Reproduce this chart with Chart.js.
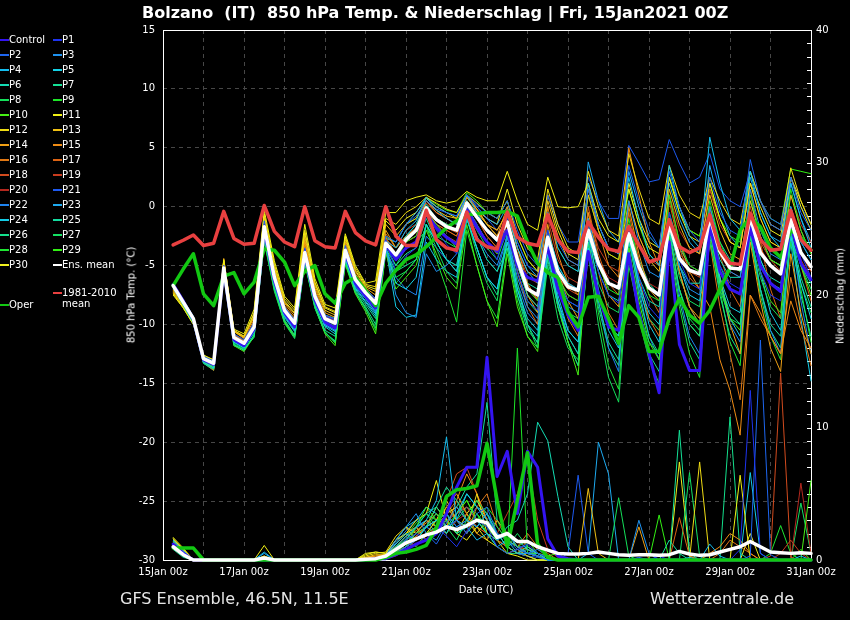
<!DOCTYPE html>
<html>
<head>
<meta charset="utf-8">
<script src="https://cdn.jsdelivr.net/npm/chart.js@4.4.1/dist/chart.umd.min.js"></script>
<style>
  body { margin: 0; background: #000; }
  #wrap { position: relative; width: 850px; height: 620px; overflow: hidden; }
  .t { position: absolute; color: #fff; font-family: 'DejaVu Sans'; white-space: pre; }
  .c { transform: translate(-50%, -50%); }
  .r { transform: translate(-50%, -50%) rotate(-90deg); }
  .lg { position: absolute; height: 2px; }
</style>
</head>
<body>
<div id="wrap">
  <canvas id="chart" width="850" height="620"></canvas>
  <div class="t" style="left:142px;top:3px;font-weight:bold;font-size:16px;">Bolzano  (IT)  850 hPa Temp. &amp; Niederschlag | Fri, 15Jan2021 00Z</div>
  <div class="t r" style="left:131px;top:295px;font-size:10px;">850 hPa Temp. (°C)</div>
  <div class="t r" style="left:840px;top:296px;font-size:10px;">Niederschlag (mm)</div>
  <div class="t c" style="left:486px;top:589px;font-size:10px;">Date (UTC)</div>
  <div class="t" style="left:120px;top:589px;font-size:16px;color:#e6e6e6;">GFS Ensemble, 46.5N, 11.5E</div>
  <div class="t" style="left:650px;top:589px;font-size:16px;color:#e6e6e6;">Wetterzentrale.de</div>
  <div id="legend"></div>
</div>
<script>
// forecast hours after 15Jan2021 00z
const hours = [6,12,18,24,30,36,42,48,54,60,66,72,78,84,90,96,102,108,114,120,126,
  132,138,144,150,156,162,168,174,180,186,192,198,204,210,216,222,228,234,240,246,
  252,258,264,270,276,282,288,294,300,306,312,318,324,330,336,342,348,354,360,366,372,378,384];
const xTickLabels = ['15Jan 00z','17Jan 00z','19Jan 00z','21Jan 00z','23Jan 00z','25Jan 00z','27Jan 00z','29Jan 00z','31Jan 00z'];

// 850 hPa temperature (°C)
const tCtl = [-6.6,-8.0,-9.6,-13.0,-13.4,-5.4,-11.3,-11.8,-10.4,-2.0,-6.3,-9.0,-10.2,-4.1,-7.9,-9.8,-10.3,-3.9,-6.5,-7.6,-8.6,
  -3.2,-4.5,-3.5,-3.0,-0.6,-1.8,-2.6,-3.2,-0.3,-1.8,-3.0,-3.8,-2.0,-5.0,-6.0,-6.3,-3.5,-7.0,-9.2,-10.5,
  -3.8,-7.5,-10.2,-10.5,-4.0,-9.0,-12.5,-15.8,-3.0,-11.7,-13.9,-13.9,-1.5,-5.5,-7.0,-7.4,-1.8,-5.0,-6.5,-7.2,-1.5,-4.8,-6.2];
const tP1 = [-6.8,-8.2,-9.4,-12.8,-13.2,-5.0,-11.0,-11.5,-10.0,-1.5,-5.8,-8.6,-9.7,-3.6,-7.4,-9.3,-9.6,-3.5,-6.0,-7.1,-7.9,
  -2.8,-5.5,-4.2,-3.5,-0.5,-2.0,-3.2,-4.0,0.0,-1.5,-3.0,-4.5,-1.0,-5.5,-8.0,-8.8,-2.0,-6.0,-8.0,-8.5,
  -1.5,-5.5,-7.5,-8.2,-2.0,-6.0,-8.5,-9.5,-0.5,-4.5,-6.5,-7.0,-1.0,-5.0,-6.5,-7.0,-1.5,-5.5,-7.5,-8.0,-0.5,-4.0,-6.0];
const tP2 = [-6.5,-7.9,-9.3,-12.7,-13.1,-5.0,-10.8,-11.3,-9.8,-1.2,-5.6,-8.5,-9.6,-3.5,-7.3,-9.2,-9.5,-3.3,-5.9,-7.0,-7.8,
  -2.5,-3.0,-1.5,-0.8,0.5,-0.2,-0.5,-0.8,1.0,0.2,-0.5,-1.0,0.5,-2.0,-4.0,-5.0,-0.5,-3.0,-4.5,-5.0,
  1.5,-1.5,-3.5,-4.0,3.5,0.5,-2.0,-3.5,3.0,0.0,-2.0,-3.0,2.5,-0.5,-2.0,-2.5,4.0,0.5,-1.5,-2.0,2.5,-0.5,-2.0];
const tP3 = [-6.9,-8.3,-9.7,-13.1,-13.5,-5.5,-11.4,-11.9,-10.5,-2.3,-6.5,-9.2,-10.4,-4.3,-8.0,-10.0,-10.5,-4.2,-6.8,-7.8,-8.9,
  -3.4,-7.5,-9.0,-9.4,-4.0,-5.5,-5.0,-4.0,-1.0,-2.5,-4.0,-5.0,-2.5,-6.0,-8.5,-9.5,-3.0,-6.5,-8.5,-9.0,
  -1.0,-4.5,-6.5,-7.0,0.5,-3.0,-5.5,-6.0,-1.5,-5.0,-7.0,-7.5,0.0,-3.5,-5.5,-6.0,1.5,-2.0,-4.0,-4.5,0.0,-3.0,-4.5];
const tP4 = [-6.6,-8.0,-9.4,-12.8,-13.2,-5.1,-11.0,-11.6,-10.1,-1.6,-5.9,-8.7,-9.8,-3.8,-7.5,-9.4,-9.8,-3.6,-6.1,-7.2,-8.1,
  -2.9,-3.5,-2.0,-1.2,0.8,-0.3,-1.0,-1.5,1.0,-0.5,-2.0,-3.0,-0.5,-3.5,-5.5,-6.5,-2.0,-5.0,-6.5,-7.0,
  2.0,-1.5,-3.5,-4.0,2.5,-1.0,-4.0,-5.0,3.5,0.0,-2.5,-3.5,5.9,2.0,-1.0,-2.0,3.0,-0.5,-2.5,-3.5,2.0,-1.0,-3.5];
const tP5 = [-6.8,-8.2,-9.8,-13.2,-13.7,-5.6,-11.5,-12.0,-10.6,-2.4,-6.6,-9.3,-10.5,-4.4,-8.1,-10.1,-10.6,-4.3,-6.9,-8.0,-9.1,
  -3.5,-6.5,-7.0,-6.0,-1.5,-3.0,-4.5,-5.5,-1.0,-3.5,-6.0,-7.0,-3.0,-7.0,-9.5,-10.5,-4.0,-8.0,-10.5,-11.5,
  -3.5,-7.5,-10.0,-11.0,-2.5,-6.5,-9.0,-10.0,-1.0,-5.0,-7.5,-8.0,-2.0,-6.0,-8.5,-9.0,-1.0,-4.5,-6.5,-7.0,-2.5,-6.5,-9.5];
const tP6 = [-6.7,-8.1,-9.5,-13.0,-13.4,-5.3,-11.2,-11.7,-10.3,-1.8,-6.1,-8.9,-10.0,-4.0,-7.7,-9.6,-10.0,-3.8,-6.3,-7.4,-8.3,
  -3.0,-4.0,-2.5,-1.5,0.2,-1.0,-1.5,-2.0,0.5,-1.0,-2.0,-3.0,-1.5,-5.0,-7.5,-8.5,-3.0,-6.5,-8.0,-8.5,
  -2.5,-5.5,-7.5,-8.0,-3.0,-6.0,-8.0,-8.5,-2.0,-5.0,-6.5,-6.5,-1.5,-4.5,-6.0,-6.0,-2.0,-5.0,-6.0,-6.5,-2.5,-5.0,-6.5];
const tP7 = [-6.9,-8.4,-9.9,-13.3,-13.8,-5.7,-11.7,-12.2,-10.9,-2.7,-6.9,-9.6,-10.9,-4.6,-8.4,-10.5,-11.0,-4.5,-7.1,-8.3,-9.5,
  -3.6,-5.0,-4.0,-3.5,-1.0,-3.0,-4.5,-5.0,-0.5,-2.5,-4.5,-5.5,-3.5,-7.5,-10.0,-11.6,-4.5,-8.5,-11.0,-12.5,
  -3.0,-8.0,-11.5,-13.0,-2.5,-7.5,-11.0,-12.5,-2.0,-7.0,-10.0,-11.0,-1.5,-6.5,-9.0,-10.0,-2.5,-7.0,-10.0,-11.0,-2.0,-6.0,-8.5];
const tP8 = [-6.8,-8.3,-9.7,-13.1,-13.6,-5.6,-11.6,-12.1,-11.0,-3.0,-7.2,-9.9,-11.2,-4.8,-8.6,-10.7,-11.5,-4.8,-7.3,-8.7,-10.3,
  -3.8,-6.0,-5.5,-4.5,-1.5,-3.5,-5.5,-6.5,-1.0,-4.0,-6.5,-8.0,-2.0,-6.5,-10.0,-12.0,-5.0,-9.5,-12.0,-13.0,
  -4.0,-10.0,-14.5,-16.6,-5.0,-9.0,-11.5,-12.5,-3.5,-7.0,-9.5,-10.5,-3.0,-7.0,-9.5,-10.0,-2.5,-6.0,-8.5,-9.5,-3.0,-6.5,-9.0];
const tP9 = [-6.7,-8.1,-9.6,-12.9,-13.4,-5.4,-11.2,-11.8,-10.4,-2.0,-6.2,-9.0,-10.1,-4.0,-7.8,-9.7,-10.2,-3.9,-6.4,-7.6,-8.7,
  -3.3,-4.5,-3.0,-2.5,-0.5,-1.5,-2.5,-3.5,0.0,-1.5,-3.0,-4.0,-1.0,-4.5,-7.0,-8.0,-2.5,-6.0,-7.5,-8.0,
  -1.5,-5.0,-7.0,-7.5,-1.0,-5.0,-7.5,-8.0,1.0,-3.0,-5.0,-5.5,0.5,-3.0,-5.0,-5.5,1.0,-2.5,-4.5,-5.0,1.5,-2.0,-4.0];
const tP10 = [-6.9,-8.3,-9.8,-13.2,-13.7,-5.8,-11.8,-12.3,-11.0,-2.9,-7.0,-9.8,-11.0,-4.7,-8.5,-10.8,-11.8,-4.9,-7.4,-8.9,-10.8,
  -3.9,-7.0,-6.0,-5.0,-2.0,-4.0,-6.0,-7.0,-1.5,-5.0,-8.0,-10.2,-4.0,-8.5,-11.0,-12.3,-4.0,-8.5,-11.5,-14.3,
  -3.0,-7.5,-10.0,-11.0,-3.5,-8.0,-11.5,-13.0,-2.5,-7.0,-10.0,-11.0,-2.0,-6.5,-9.5,-10.5,-1.5,-5.5,-8.0,-9.0,-1.0,-5.0,-7.5];
const tP11 = [-7.5,-8.6,-10.0,-12.6,-13.1,-4.5,-10.4,-10.8,-8.7,-0.3,-4.6,-7.6,-8.6,-1.5,-6.1,-8.3,-8.6,-2.3,-5.0,-6.5,-6.3,
  -0.5,-0.5,0.5,0.8,1.0,0.5,0.3,0.5,1.3,0.8,0.5,0.5,3.0,0.5,-1.5,-2.0,2.5,0.0,-0.1,0.0,
  2.0,-1.0,-2.5,-3.0,1.5,-1.5,-3.5,-4.0,2.5,-0.5,-2.5,-3.0,2.0,-1.0,-3.0,-3.5,2.0,-1.0,-3.0,-3.5,2.5,0.0,-2.0];
const tP12 = [-7.3,-8.5,-9.9,-12.7,-13.0,-4.6,-10.5,-11.0,-9.0,-0.6,-4.9,-7.8,-8.8,-2.0,-6.4,-8.5,-8.9,-2.5,-5.2,-6.6,-6.8,
  -1.0,-1.5,-0.5,0.0,0.8,0.3,-0.2,-0.5,1.0,0.3,-0.5,-1.0,0.5,-2.5,-4.5,-5.5,1.5,-1.5,-3.5,-4.0,
  3.0,0.0,-2.0,-2.5,4.5,1.5,-1.0,-1.5,3.5,1.0,-0.5,-1.0,2.5,0.5,-1.0,-1.5,3.0,0.5,-1.5,-2.0,3.3,0.5,-1.5];
const tP13 = [-7.1,-8.4,-9.8,-12.8,-13.3,-4.7,-10.6,-11.1,-9.3,-0.9,-5.2,-8.1,-9.1,-2.5,-6.7,-8.8,-9.2,-2.8,-5.5,-6.8,-7.2,
  -1.5,-2.5,-1.5,-1.0,0.5,-0.3,-0.8,-1.0,0.8,-0.2,-1.5,-2.0,-0.5,-3.5,-5.5,-6.0,0.5,-2.5,-4.5,-5.0,
  1.0,-2.0,-4.0,-4.5,0.5,-2.5,-4.5,-5.5,1.5,-1.5,-3.5,-4.0,1.0,-2.0,-4.0,-4.5,0.5,-2.5,-4.5,-5.0,1.0,-2.0,-4.0];
const tP14 = [-7.0,-8.3,-9.7,-13.0,-13.6,-4.4,-10.5,-11.0,-9.4,-1.0,-5.4,-8.2,-9.3,-2.8,-6.9,-9.0,-9.4,-3.0,-5.7,-6.9,-7.5,
  -2.0,-3.5,-2.5,-2.0,0.0,-1.0,-1.5,-2.0,0.5,-0.5,-1.5,-2.5,-1.0,-4.5,-7.5,-9.0,-1.5,-5.5,-8.0,-9.5,
  -0.5,-4.5,-7.5,-8.5,0.0,-4.0,-7.0,-8.0,-1.0,-5.5,-8.5,-9.5,-2.0,-6.0,-10.0,-12.5,-3.0,-8.0,-12.0,-14.0,-4.0,-9.0,-12.5];
const tP15 = [-7.2,-8.5,-9.9,-13.1,-13.7,-4.5,-10.6,-11.2,-9.6,-1.2,-5.6,-8.4,-9.5,-3.0,-7.1,-9.2,-9.6,-3.2,-5.9,-7.0,-7.8,
  -2.3,-3.5,-2.5,-1.8,0.5,-0.5,-1.0,-1.5,1.0,-0.2,-1.5,-2.5,0.0,-3.5,-6.5,-8.0,0.0,-4.0,-6.5,-7.5,
  2.0,-2.0,-5.0,-6.0,5.0,1.0,-3.0,-5.0,1.0,-3.0,-5.5,-7.0,-8.5,-13.0,-15.6,-19.4,-7.5,-9.0,-11.0,-12.5,-8.0,-10.5,-12.0];
const tP16 = [-7.0,-8.4,-9.8,-13.2,-13.9,-4.8,-10.8,-11.4,-9.8,-1.4,-5.8,-8.6,-9.7,-3.3,-7.3,-9.4,-9.8,-3.4,-6.0,-7.1,-7.9,
  -2.6,-4.0,-3.0,-2.5,-0.3,-1.5,-2.0,-2.5,0.3,-1.0,-2.5,-3.5,-1.5,-5.5,-8.5,-10.0,-2.0,-6.5,-9.5,-11.0,
  -1.0,-5.5,-9.0,-10.5,-1.5,-6.0,-9.5,-11.0,-1.0,-5.5,-8.5,-10.0,-3.0,-8.5,-12.5,-16.4,-7.5,-9.5,-11.0,-12.5,-6.0,-10.0,-13.5];
const tP17 = [-6.9,-8.2,-9.6,-13.0,-13.5,-5.0,-10.9,-11.4,-10.0,-1.5,-5.9,-8.7,-9.8,-3.6,-7.5,-9.5,-9.8,-3.5,-6.1,-7.2,-8.1,
  -2.7,-4.5,-3.5,-3.0,-0.5,-1.5,-2.5,-3.0,0.0,-1.5,-3.0,-4.0,-1.5,-5.0,-7.5,-8.5,-2.5,-6.0,-7.5,-8.0,
  0.0,-4.0,-6.5,-7.5,-0.5,-4.5,-7.5,-9.0,0.5,-3.5,-6.0,-7.0,0.0,-4.0,-7.0,-8.5,1.5,-3.0,-7.0,-9.5,-0.5,-5.0,-8.0];
const tP18 = [-6.8,-8.2,-9.5,-12.9,-13.4,-5.2,-11.0,-11.5,-10.1,-1.6,-6.0,-8.8,-9.9,-3.9,-7.6,-9.4,-9.8,-3.6,-6.2,-7.3,-8.2,
  -3.0,-4.0,-2.8,-2.0,-0.2,-1.2,-1.8,-2.2,0.3,-1.0,-2.0,-3.0,-1.5,-4.5,-7.0,-7.8,-3.0,-6.0,-7.0,-7.5,
  -2.0,-5.0,-6.5,-7.0,-2.5,-5.5,-7.0,-7.5,-1.5,-4.5,-5.5,-6.0,-0.5,-3.5,-5.0,-5.5,0.0,-3.0,-4.5,-5.5,-1.0,-4.0,-5.5];
const tP19 = [-6.6,-8.0,-9.4,-12.8,-13.2,-5.1,-11.0,-11.5,-10.0,-1.5,-5.8,-8.6,-9.7,-3.7,-7.4,-9.3,-9.7,-3.5,-6.0,-7.1,-8.0,
  -2.8,-3.5,-2.0,-1.5,0.3,-0.5,-1.0,-1.5,0.8,-0.3,-1.5,-2.0,-0.5,-3.5,-6.0,-6.5,-1.0,-4.5,-6.0,-6.5,
  -0.5,-3.5,-5.0,-5.5,0.5,-2.5,-4.5,-5.0,1.0,-2.0,-3.5,-4.0,1.5,-1.5,-3.0,-3.5,2.0,-1.0,-3.0,-3.5,1.0,-1.5,-3.0];
const tP20 = [-6.7,-8.1,-9.5,-12.9,-13.3,-5.3,-11.1,-11.6,-10.3,-1.8,-6.1,-8.9,-10.0,-3.9,-7.7,-9.6,-10.0,-3.7,-6.3,-7.4,-8.3,
  -3.1,-4.5,-3.0,-2.5,-0.4,-1.5,-2.0,-2.5,0.0,-1.0,-2.5,-3.5,-1.0,-4.0,-7.0,-8.0,-2.5,-5.5,-6.5,-7.0,
  -1.5,-4.5,-6.0,-6.5,-2.0,-5.0,-6.5,-7.0,-1.0,-4.0,-5.0,-5.5,-1.0,-4.0,-5.5,-6.0,-0.5,-3.5,-5.0,-5.5,-1.5,-4.5,-6.0];
const tP21 = [-6.7,-8.0,-9.5,-12.9,-13.3,-5.2,-11.1,-11.6,-10.2,-1.8,-6.0,-8.8,-9.9,-3.9,-7.7,-9.6,-10.0,-3.8,-6.2,-7.4,-8.4,
  -3.0,-4.2,-2.5,-1.5,0.5,-0.5,-1.0,-1.5,1.0,0.0,-1.0,-2.0,-0.5,-3.0,-5.0,-5.5,1.0,-1.5,-3.0,-3.0,
  2.5,0.5,-1.0,-1.0,5.2,3.7,2.1,2.3,5.7,3.7,2.0,2.5,4.5,1.5,0.5,0.0,3.0,0.5,-1.0,-1.5,2.5,0.0,-1.5];
const tP22 = [-6.8,-8.2,-9.7,-13.1,-13.6,-5.5,-11.4,-11.9,-10.6,-2.2,-6.4,-9.2,-10.4,-4.2,-8.0,-10.0,-10.5,-4.1,-6.7,-7.8,-9.0,
  -3.4,-6.0,-7.0,-7.5,-2.5,-3.5,-4.5,-5.0,-0.5,-2.5,-4.5,-5.5,-2.5,-6.5,-9.0,-10.0,-3.5,-8.0,-11.0,-12.5,
  -2.5,-8.0,-12.0,-14.0,-1.5,-7.0,-11.0,-13.0,-2.0,-7.5,-11.0,-12.5,-1.0,-6.5,-10.0,-11.5,-2.0,-7.0,-10.5,-12.5,-1.5,-8.0,-12.5];
const tP23 = [-6.6,-8.0,-9.4,-12.8,-13.2,-5.1,-10.9,-11.4,-10.0,-1.4,-5.7,-8.6,-9.7,-3.6,-7.4,-9.3,-9.7,-3.5,-6.0,-7.1,-8.0,
  -2.7,-3.0,-1.5,-0.5,0.8,0.0,-0.5,-0.8,1.0,0.0,-1.0,-1.5,0.0,-3.0,-5.0,-6.0,-0.5,-3.5,-5.0,-5.5,
  3.8,0.5,-2.0,-3.0,3.0,0.0,-2.5,-3.5,2.0,-1.0,-3.0,-4.0,3.5,0.0,-2.5,-3.5,2.5,-0.5,-2.5,-3.0,2.0,-1.0,-3.0];
const tP24 = [-6.9,-8.3,-9.8,-13.2,-13.7,-5.6,-11.5,-12.0,-10.7,-2.5,-6.7,-9.4,-10.6,-4.4,-8.2,-10.2,-10.8,-4.4,-7.0,-8.1,-9.3,
  -3.5,-8.5,-9.4,-9.2,-3.0,-4.5,-5.5,-6.0,-1.0,-3.5,-6.0,-7.0,-2.5,-7.0,-10.0,-11.0,-2.5,-7.5,-10.5,-11.5,
  -2.0,-7.0,-10.5,-12.0,-2.0,-6.5,-10.0,-11.5,-1.0,-5.5,-8.5,-10.0,-1.5,-6.0,-9.5,-11.0,-1.0,-5.5,-9.0,-10.5,-3.0,-9.5,-14.8];
const tP25 = [-6.7,-8.1,-9.6,-13.0,-13.4,-5.3,-11.2,-11.7,-10.3,-1.9,-6.1,-8.9,-10.0,-4.0,-7.7,-9.6,-10.0,-3.8,-6.3,-7.4,-8.4,
  -3.2,-4.5,-3.0,-2.0,0.0,-1.0,-1.5,-2.0,0.5,-0.5,-1.5,-2.5,-1.0,-4.0,-6.5,-7.0,-2.0,-5.0,-6.5,-7.0,
  -1.5,-4.5,-6.5,-7.0,-1.5,-4.5,-6.5,-7.5,-0.5,-3.5,-5.0,-5.5,0.0,-3.0,-4.5,-5.0,0.5,-2.5,-4.5,-5.0,0.0,-3.0,-4.5];
const tP26 = [-6.9,-8.4,-9.9,-13.3,-13.9,-5.8,-11.8,-12.1,-11.1,-2.8,-7.1,-9.8,-11.1,-4.6,-8.6,-10.7,-11.4,-4.6,-7.3,-8.5,-10.0,
  -3.7,-5.5,-5.0,-4.5,-1.5,-3.0,-4.5,-5.5,-1.0,-3.5,-6.0,-7.5,-3.0,-7.5,-10.5,-11.5,-3.5,-8.5,-11.5,-13.5,
  -3.0,-8.5,-12.0,-13.5,-3.5,-8.5,-12.5,-14.0,-3.0,-8.0,-11.5,-13.0,-2.5,-7.5,-11.0,-12.5,-2.0,-7.0,-10.5,-12.0,-2.5,-7.5,-11.0];
const tP27 = [-6.7,-8.2,-9.6,-13.0,-13.5,-5.4,-11.3,-11.8,-10.4,-2.1,-6.3,-9.1,-10.2,-4.2,-7.9,-9.8,-10.3,-4.0,-6.6,-7.8,-8.9,
  -3.3,-5.0,-3.5,-3.0,-2.0,-2.5,-3.0,-3.5,-0.5,-2.0,-3.5,-4.5,-2.0,-5.5,-8.0,-9.0,-3.0,-7.0,-9.0,-9.5,
  -2.5,-6.5,-8.5,-9.0,-3.0,-7.0,-9.5,-10.5,-2.0,-6.0,-8.0,-8.5,-1.0,-5.0,-7.0,-7.5,-0.5,-4.5,-6.5,-7.0,-1.0,-5.0,-7.0];
const tP28 = [-6.8,-8.3,-9.8,-13.2,-13.8,-5.7,-11.7,-12.2,-10.9,-2.6,-6.9,-9.7,-11.0,-4.5,-8.4,-10.6,-11.6,-4.7,-7.2,-8.6,-10.5,
  -3.8,-6.5,-5.5,-4.5,-1.5,-4.5,-7.0,-9.8,-2.0,-5.0,-8.0,-9.5,-3.5,-8.0,-11.0,-12.0,-3.0,-8.0,-11.5,-13.5,
  -3.5,-9.0,-13.5,-15.5,-4.0,-9.5,-13.0,-15.0,-3.5,-8.5,-12.5,-14.5,-2.0,-7.0,-11.5,-13.5,-2.5,-7.5,-11.0,-13.0,-2.0,-7.0,-11.5];
const tP29 = [-6.6,-8.0,-9.4,-12.8,-13.2,-5.1,-10.9,-11.4,-9.9,-1.3,-5.7,-8.5,-9.6,-3.5,-7.3,-9.2,-9.5,-3.4,-5.9,-7.0,-7.8,
  -2.6,-3.0,-1.5,-1.0,0.8,0.2,-0.3,-0.5,1.2,0.5,-0.5,-1.0,0.5,-2.5,-4.5,-5.5,-0.5,-3.5,-5.0,-5.5,
  1.0,-2.0,-4.0,-4.5,1.5,-1.5,-4.0,-5.0,2.5,-0.5,-2.0,-2.5,2.0,-1.0,-2.5,-3.0,3.0,0.5,-1.0,-1.5,3.2,3.0,2.8];
const tP30 = [-7.4,-8.6,-10.0,-12.6,-13.0,-4.6,-10.6,-11.1,-9.1,-0.8,-5.1,-8.0,-9.0,-2.2,-6.5,-8.6,-9.0,-2.6,-5.4,-6.7,-7.0,
  -1.2,-2.0,-1.0,-0.5,0.7,0.0,-0.5,-1.0,0.8,-0.3,-1.0,-1.5,1.5,-1.5,-3.5,-4.5,1.0,-2.0,-4.0,-4.5,
  1.5,-1.5,-3.5,-4.0,2.0,-1.0,-3.0,-3.5,2.5,0.0,-2.0,-2.5,1.5,-1.0,-3.0,-3.5,2.0,0.0,-2.0,-2.5,2.5,0.5,-1.5];
const tMean = [-6.7,-8.1,-9.5,-12.9,-13.3,-5.2,-11.1,-11.6,-10.2,-1.7,-6.0,-8.8,-9.9,-3.9,-7.6,-9.5,-9.9,-3.7,-6.2,-7.3,-8.2,
  -3.1,-4.1,-2.8,-2.0,-0.1,-1.1,-1.7,-2.0,0.3,-0.9,-2.0,-2.8,-1.3,-4.5,-7.0,-7.5,-2.6,-5.5,-6.8,-7.1,
  -2.0,-4.8,-6.5,-6.9,-2.3,-5.1,-6.9,-7.5,-1.4,-4.4,-5.4,-5.7,-0.9,-3.8,-5.2,-5.3,-0.9,-3.9,-5.0,-5.7,-1.1,-3.9,-5.1];
const tOper = [-6.7,-5.3,-4.0,-7.4,-8.4,-5.9,-5.6,-7.4,-6.4,-3.6,-3.7,-4.7,-6.7,-5.5,-5.0,-7.4,-8.2,-6.5,-6.0,-7.1,-8.4,
  -6.5,-5.4,-4.5,-4.1,-3.4,-2.6,-1.8,-1.2,-0.7,-0.6,-0.5,-0.5,-0.4,-0.8,-3.0,-4.8,-5.6,-6.0,-8.9,-10.2,
  -7.7,-7.6,-9.5,-11.6,-8.4,-9.4,-12.3,-12.3,-9.5,-7.8,-9.2,-9.9,-8.8,-7.0,-5.2,-2.0,-0.9,-1.7,-3.5,-4.3,-2.0,-2.6,-3.7];
const tClim = [-3.25,-2.85,-2.4,-3.3,-3.1,-0.4,-2.7,-3.2,-3.1,0.1,-2.1,-3.0,-3.4,0.0,-2.9,-3.4,-3.5,-0.4,-2.2,-2.9,-3.25,
  0.0,-2.5,-3.3,-3.3,-0.3,-2.8,-3.5,-3.7,-0.45,-2.8,-3.4,-3.6,-0.45,-2.6,-3.1,-3.3,-0.7,-2.8,-3.8,-3.9,
  -1.3,-2.6,-3.6,-3.8,-1.7,-3.25,-4.7,-4.4,-1.1,-3.4,-3.9,-3.5,-0.7,-3.6,-4.8,-4.9,-0.55,-2.8,-3.7,-3.6,-0.3,-2.8,-3.7];

// precipitation per 6 h (mm)
const pCtl = [1.2,0.5,0,0,0,0,0,0,0,0,0,0,0,0,0,0,0,0,0,0,0.1,
  0.1,0.4,0.8,1.2,1.5,2.0,3.5,5.5,7.0,7.0,15.3,6.3,8.2,3.5,8.2,7.0,1.6,0.3,0.1,0,
  0,0,0,0,0,0,0,0,0,0,0,0,0,0,0,0,0,0,0,0,0,0,0];
const pP1 = [1.0,0.4,0,0,0,0,0,0,0,0.1,0,0,0,0,0,0,0,0,0,0,0,
  0.2,0.8,1.5,2.0,1.5,2.5,1.8,1.0,2.2,3.0,2.5,1.0,0.5,0.8,1.2,0.5,0.2,0,0,0,
  0,0,0,0,0,0,0,0.3,0,0,0,0,0,0,0,0.8,12.8,0.5,0,0,0,0,0];
const pP2 = [0.9,0.3,0,0,0,0,0,0,0,0,0,0,0,0,0,0,0,0,0,0,0,
  0.1,0.5,1.0,1.5,2.0,1.2,2.5,3.0,2.0,3.5,4.0,2.0,1.5,0.8,0.5,0.3,0,0,0,0,
  0,0,0,0,0,0.2,0,0,0,0,0,0,0,0,0,0,0.3,16.6,0.4,0,0,0,0];
const pP3 = [1.3,0.6,0,0,0,0,0,0,0,0,0,0,0,0,0,0,0,0,0,0,0,
  0.3,1.5,2.5,3.5,2.0,1.5,2.8,4.0,3.0,2.5,3.5,1.5,2.0,1.0,0.5,0.8,0.3,0,0,0,
  0,0,0,0,0,3.0,0.5,0,0,0,0,0,0,0,0,0,0,0,0,0,0,0,0];
const pP4 = [1.5,0.7,0,0,0,0,0,0,0,0.6,0,0,0,0,0,0,0,0,0,0,0,
  0.2,1.0,1.8,2.5,3.0,4.5,9.3,3.0,2.5,1.5,2.0,1.0,1.5,0.5,0.5,0.3,0,0,0,0,
  0,0,0,0,0,0,0,0,0,0,0,0,1.2,0.3,0,0,0,0,0,0,0,0.3,0];
const pP5 = [1.1,0.5,0,0,0,0,0,0,0,0.2,0,0,0,0,0,0,0,0,0,0,0,
  0.3,1.2,2.0,1.5,2.5,3.0,2.0,3.5,5.0,4.0,3.0,2.0,1.0,1.5,0.8,0.5,0,0,0,0,
  0,0,0,0,0,0,0,0,0,0,0.2,0,0,0,0,0,0,0,0,0,0,0,0];
const pP6 = [1.0,0.3,0,0,0,0,0,0,0,0,0,0,0,0,0,0,0,0,0,0,0,
  0.2,0.5,1.0,1.5,2.5,3.0,3.5,2.0,2.5,3.0,2.0,1.5,2.5,3.0,5.0,10.4,9.0,4.8,1.0,0,
  0,0,0,0,0,0,0,0,0,0,0,0,0,0,0,0,0,0,0,0,0,0,0];
const pP7 = [0.8,0.2,0,0,0,0,0,0,0,0,0,0,0,0,0,0,0,0,0,0,0,
  0.1,0.8,1.5,2.5,3.5,4.0,5.5,4.5,3.0,2.5,3.5,2.0,1.0,0.5,1.0,0.5,0.2,0,0,0,
  0,0,0,0,0,0,0,0,0,9.8,0.5,0,0,0,0,0,0,0,0,0,0,0,0];
const pP8 = [1.4,0.6,0,0,0,0,0,0,0,0,0,0,0,0,0,0,0,0,0,0,0,
  0.2,0.6,1.2,2.0,2.5,3.5,2.5,1.5,3.0,4.5,3.5,2.5,1.5,1.0,0.5,0.5,0,0,0,0,
  0,0,0,4.7,0.3,0,0,0,0,0,0,0,0,0,0,0,0,0,0,0,0,0,0];
const pP9 = [1.1,0.4,0,0,0,0,0,0,0,0,0,0,0,0,0,0,0,0,0,0,0,
  0.3,1.0,1.5,1.0,2.0,2.5,3.0,2.0,2.5,3.5,2.0,1.0,0.5,16.0,0.5,0.3,0,0,0,0,
  0,0,0,0,0,0,0,0,0,0,0,0,0,0,0,0,0,0,0,0,0,0,0];
const pP10 = [0.9,0.3,0,0,0,0,0,0,0,0,0,0,0,0,0,0,0,0,0,0,0,
  0.1,0.5,1.0,2.5,4.0,3.0,2.0,3.5,4.5,3.0,2.5,1.5,2.0,1.0,1.5,0.5,0.3,0.5,0,0,
  0,0,0,0,0,0,0,0,0,0,0,0,0,0,0,0,0,0,0,0,0,0,6.0];
const pP11 = [1.7,0.9,0,0,0,0,0,0,0,1.1,0,0,0,0,0,0,0,0,0,0.4,0.6,
  0.5,1.5,2.0,3.0,3.5,6.0,3.0,2.0,1.5,2.5,1.5,1.0,0.5,0.3,0,0,0,0,0,0,
  0,0,0,0,0,0,0,0,0,0,0,0,0,0,0,6.4,0,0,0,0,0,0,0];
const pP12 = [1.6,0.8,0,0,0,0,0,0,0,0.3,0,0,0,0,0,0,0,0,0,0.3,0.5,
  0.6,1.8,2.5,1.5,2.0,3.0,4.5,3.0,2.5,5.0,2.0,1.5,0.5,0.8,0.3,0,0,0,0,0,
  0,0,0,0,0,0,0,0,0,0,0,7.4,0,0,0,0,0,0,0,0,0,0,0];
const pP13 = [1.5,0.7,0,0,0,0,0,0,0,0.3,0,0,0,0,0,0,0,0,0,0.2,0.4,
  0.4,1.2,2.0,2.5,1.5,2.5,3.5,4.0,3.0,2.0,3.0,2.0,1.0,0.5,1.0,0.5,0.2,0,0,0,
  5.4,0.5,0,0,0,0,0,0,0,0,0,0,0,0,0,0,0,0,0,0,0,0,0];
const pP14 = [1.3,0.6,0,0,0,0,0,0,0,0,0,0,0,0,0,0,0,0,0,0.2,0.3,
  0.3,0.8,1.5,2.0,3.0,2.5,4.0,5.0,3.5,2.0,1.5,3.0,2.0,1.0,0.5,0.5,0.3,0,0,0,
  0,0,0,0,0,2.5,0,0,0,0,0,0,0,0,0,0,0,0,0,0,0,0,0];
const pP15 = [1.4,0.7,0,0,0,0,0,0,0,0.2,0,0,0,0,0,0,0,0,0,0.1,0.3,
  0.4,1.0,1.8,2.2,2.8,3.5,2.5,4.5,6.5,5.0,3.0,2.0,1.5,1.0,0.8,0.5,0,0,0,0,
  0,0,0,0,0,0,0,0,0,0,0,0,0.5,1.0,2.0,1.5,0.5,0,0,0,0,0,0];
const pP16 = [1.2,0.5,0,0,0,0,0,0,0,0,0,0,0,0,0,0,0,0,0,0,0.2,
  0.2,0.7,1.2,1.8,2.5,3.0,4.0,3.0,2.0,4.0,5.0,2.5,1.5,1.0,2.0,1.0,0.5,0,0,0,
  0,0,0,0,0,0,0,0,0,0,0,0,0,0.5,1.5,1.0,0.5,0,0,0,0,0,0];
const pP17 = [1.1,0.5,0,0,0,0,0,0,0,0,0,0,0,0,0,0,0,0,0,0,0.1,
  0.2,0.6,1.0,1.5,2.0,2.5,3.5,4.5,3.5,2.5,2.0,1.5,1.0,0.5,1.5,0.8,0.3,0,0,0,
  0,0,0,0,0,0,0,0,0,3.2,0.3,0,0,0,0,0,0,0,0,0,0,0,0];
const pP18 = [1.0,0.4,0,0,0,0,0,0,0,0,0,0,0,0,0,0,0,0,0,0,0,
  0.1,0.5,1.0,1.8,2.5,3.0,4.5,6.5,7.0,5.0,3.0,2.0,1.5,1.0,0.5,0.3,0,0,0,0,
  0,0,0,0,0,0,0,0,0,0,0,0,0,0,0,0,0,0,0.3,14.1,0.2,0,0];
const pP19 = [0.9,0.4,0,0,0,0,0,0,0,0,0,0,0,0,0,0,0,0,0,0,0,
  0.1,0.4,0.8,1.5,2.0,2.5,3.0,3.5,4.0,3.0,2.5,2.0,3.5,5.0,7.5,3.0,0.8,0.2,0,0,
  0,0,0,0,0,0,0,0,0,0,0,0,0,0,0,0,0,0,0,0.5,1.5,0.5,0];
const pP20 = [0.8,0.3,0,0,0,0,0,0,0,0,0,0,0,0,0,0,0,0,0,0,0,
  0.1,0.3,0.8,1.2,1.8,2.5,2.0,3.0,3.5,2.5,2.0,1.5,1.0,0.5,0.5,0.3,0,0,0,0,
  0,0,0,0,0,0,0,0,0,0,0,0,0,0,0,0,0,0,0,0,0,5.8,0.5];
const pP21 = [1.0,0.5,0,0,0,0,0,0,0,0,0,0,0,0,0,0,0,0,0,0,0,
  0.2,0.6,1.2,1.8,2.5,2.0,3.0,3.5,4.0,3.0,2.5,1.5,1.0,0.5,0.3,0.2,0,0,0.5,6.4,
  0.5,0,0,0,0,0,0,0,0,0,0,0,0,0,0,0,0,0,0,0,0,0,0];
const pP22 = [1.2,0.5,0,0,0,0,0,0,0,0,0,0,0,0,0,0,0,0,0,0,0,
  0.3,1.3,2.2,3.0,2.5,2.0,3.5,2.5,3.0,4.0,3.0,2.0,1.5,1.0,1.0,0.5,0.2,0,0,0,
  0,0,0,0,0,0,0,0,0,0,0,0,0,0,0,0,0,0,0,0,0,0,0];
const pP23 = [1.3,0.6,0,0,0,0,0,0,0,0.5,0,0,0,0,0,0,0,0,0,0,0,
  0.2,0.9,1.6,2.4,3.0,2.0,3.5,2.5,3.0,2.5,3.5,2.0,1.0,0.5,0.8,0.3,0,0,0,0,
  0.5,8.9,6.5,0,0,0,0,0,0,0,0,0,0,0,0,0,0,0,0,0,0,0,0];
const pP24 = [1.4,0.7,0,0,0,0,0,0,0,0.2,0,0,0,0,0,0,0,0,0,0,0,
  0.4,1.5,2.5,3.0,4.0,3.5,2.5,3.0,5.0,4.0,3.5,2.0,1.5,1.0,0.5,0.3,0,0,0,0,
  0,0,0,0,0,0,0,0,0,0,0,0,0,0,0,0,6.6,0.5,0,0,0,0,0];
const pP25 = [1.0,0.4,0,0,0,0,0,0,0,0,0,0,0,0,0,0,0,0,0,0,0,
  0.2,0.7,1.3,2.0,3.0,2.5,3.5,4.0,5.5,6.5,11.9,3.0,2.0,1.0,0.5,0.3,0,0,0,0,
  0,0,0,0,0,0,0,0,1.5,0.5,0,0,0,0,0,0,0,0,0,0,0,0,0];
const pP26 = [0.9,0.3,0,0,0,0,0,0,0,0,0,0,0,0,0,0,0,0,0,0,0,
  0.1,0.6,1.0,1.5,2.5,4.0,3.0,2.0,2.5,3.0,2.0,1.0,0.5,0.5,0.3,0,0,0,0,0,
  0,0,0,0,0,0,0,0,0,0,0,0,0,0,10.8,0.5,0,0,0,0,0,0,0];
const pP27 = [1.1,0.4,0,0,0,0,0,0,0,0,0,0,0,0,0,0,0,0,0,0,0,
  0.2,0.8,1.5,2.5,3.5,2.5,2.0,3.0,4.0,3.5,2.5,1.5,1.0,2.0,1.0,0.5,0,0,0,0,
  0,0,0,0,0,0,0,0,0,0,6.6,0.3,0,0,0,0,0,0,0,0,0,4.3,0.5];
const pP28 = [1.3,0.5,0,0,0,0,0,0,0,0,0,0,0,0,0,0,0,0,0,0,0,
  0.3,1.0,1.8,2.8,3.5,3.0,4.0,3.0,2.0,3.0,4.0,3.0,1.5,1.0,0.5,0.3,0,0,0,0,
  0,0,0,0,0,0,0,0,0,0,0,0,0,0,0,0,0,0,0.5,2.6,0.5,0,0];
const pP29 = [1.0,0.4,0,0,0,0,0,0,0,0,0,0,0,0,0,0,0,0,0,0,0,
  0.2,0.5,1.0,1.5,2.0,3.0,2.5,3.5,4.5,3.0,2.0,1.5,1.0,0.5,0.5,0.3,0,0,0,0,
  0,0,0,0,0,0,0,3.4,0,0,0,0,0,0,0,0,0,0,0,0,0,0.8,0];
const pP30 = [1.6,0.8,0,0,0,0,0,0,0,0.2,0,0,0,0,0,0,0,0,0,0.5,0.6,
  0.5,1.5,2.5,2.0,2.5,4.0,3.0,2.0,3.5,4.5,3.0,1.5,1.0,0.5,0.3,0,0,0,0,0,
  0,0,0,0,0,0,0,0,0,7.4,0.3,0,0,0,0,0,2.0,0,0,0,0,0,0];
const pMean = [1.0,0.4,0,0,0,0,0,0,0,0.15,0,0,0,0,0,0,0,0,0,0.05,0.1,
  0.3,0.8,1.3,1.6,1.9,2.1,2.5,2.3,2.6,3.0,2.8,1.7,2.0,1.4,1.4,1.0,0.75,0.5,0.45,0.45,
  0.5,0.6,0.5,0.4,0.35,0.4,0.4,0.35,0.4,0.65,0.45,0.35,0.4,0.6,0.8,1.0,1.4,1.0,0.6,0.55,0.5,0.55,0.5];
const pOper = [0.9,0.9,0.9,0,0,0,0,0,0,0,0,0,0,0,0,0,0,0,0,0,0,
  0.2,0.5,0.6,0.8,1.1,2.4,4.8,5.3,5.4,5.6,8.8,4.5,1.0,4.5,8.1,1.2,0.2,0,0,0,
  0,0,0,0,0,0,0,0,0,0,0,0,0,0,0,0,0,0,0,0,0,0,0];

const memberNames = ['Control','P1','P2','P3','P4','P5','P6','P7','P8','P9','P10','P11','P12','P13','P14','P15',
  'P16','P17','P18','P19','P20','P21','P22','P23','P24','P25','P26','P27','P28','P29','P30'];
const memberColors = ['#3414f2','#1e34f0','#1e66f0','#1e92f0','#14bef0','#14d2e6','#14dcb4','#14e096','#14e05a','#1ee628','#46f014',
  '#f0f014','#f0dc14','#f0c014','#f0a014','#f08c14','#e07814','#dc6414','#d24b1e','#c83c1e','#b4281e',
  '#1e5af0','#1e84f0','#1eaaf0','#14cce6','#14dca0','#14e08c','#14e064','#1ee632','#32f014','#f0f01e'];
const memberTemps = [tCtl,tP1,tP2,tP3,tP4,tP5,tP6,tP7,tP8,tP9,tP10,tP11,tP12,tP13,tP14,tP15,
  tP16,tP17,tP18,tP19,tP20,tP21,tP22,tP23,tP24,tP25,tP26,tP27,tP28,tP29,tP30];
const memberPrecip = [pCtl,pP1,pP2,pP3,pP4,pP5,pP6,pP7,pP8,pP9,pP10,pP11,pP12,pP13,pP14,pP15,
  pP16,pP17,pP18,pP19,pP20,pP21,pP22,pP23,pP24,pP25,pP26,pP27,pP28,pP29,pP30];
const meanColor = '#ffffff', climColor = '#e84040', operColor = '#12c812';

function xy(arr) {
  return arr.map((v, i) => ({ x: hours[i], y: v }));
}

const datasets = [];
function addLine(label, arr, axis, color, width, order) {
  datasets.push({ label: label, data: xy(arr), yAxisID: axis, borderColor: color,
    borderWidth: width, order: order, clip: 3 });
}
addLine('1981-2010 mean', tClim, 'yT', climColor, 3.5, 1);
addLine('Ens. mean', tMean, 'yT', meanColor, 3.5, 2);
addLine('Ens. mean', pMean, 'yP', meanColor, 3.5, 2);
addLine('Oper', tOper, 'yT', operColor, 3.5, 3);
addLine('Oper', pOper, 'yP', operColor, 3.5, 3);
for (let k = 0; k < memberNames.length; k++) {
  const w = k === 0 ? 3 : 1;
  const o = k === 0 ? 4 : 5;
  addLine(memberNames[k], memberTemps[k], 'yT', memberColors[k], w, o);
  addLine(memberNames[k], memberPrecip[k], 'yP', memberColors[k], w, o);
}

// white frame + small inward ticks on the precipitation axis
const framePlugin = {
  id: 'frame',
  beforeDatasetsDraw(chart) {
    const ctx = chart.ctx, a = chart.chartArea, yP = chart.scales.yP;
    ctx.save();
    ctx.strokeStyle = '#ffffff';
    ctx.lineWidth = 1;
    ctx.strokeRect(Math.round(a.left) + 0.5, Math.round(a.top) + 0.5,
      Math.round(a.right - a.left), Math.round(a.bottom - a.top));
    ctx.beginPath();
    for (let v = 0; v <= 40; v++) {
      const y = Math.round(yP.getPixelForValue(v)) + 0.5;
      ctx.moveTo(a.right - 4, y);
      ctx.lineTo(a.right, y);
    }
    ctx.stroke();
    ctx.restore();
  }
};

Chart.defaults.font.family = 'DejaVu Sans';
Chart.defaults.font.size = 10;
Chart.defaults.color = '#ffffff';

new Chart(document.getElementById('chart'), {
  type: 'line',
  data: { datasets: datasets },
  options: {
    responsive: false,
    animation: false,
    events: [],
    layout: { padding: { top: 30, left: 0, right: 0, bottom: 0 } },
    elements: {
      point: { radius: 0 },
      line: { tension: 0, borderJoinStyle: 'round', borderCapStyle: 'round' }
    },
    plugins: { legend: { display: false }, tooltip: { enabled: false }, title: { display: false } },
    scales: {
      x: {
        type: 'linear', min: 0, max: 384,
        afterFit: s => { s.height = 60; },
        ticks: {
          stepSize: 24, autoSkip: false, maxRotation: 0, padding: 6, color: '#fff',
          callback: v => (v % 48 === 0 ? xTickLabels[v / 48] : '')
        },
        grid: { color: '#474747', drawTicks: false, lineWidth: 1 },
        border: { display: false, dash: [4, 4] }
      },
      yT: {
        position: 'left', min: -30, max: 15,
        afterFit: s => { s.width = 163; },
        ticks: { stepSize: 5, padding: 8, color: '#fff' },
        grid: { color: '#474747', drawTicks: false, lineWidth: 1 },
        border: { display: false, dash: [4, 4] }
      },
      yP: {
        position: 'right', min: 0, max: 40,
        afterFit: s => { s.width = 39; },
        ticks: { stepSize: 10, padding: 5, color: '#fff' },
        grid: { display: false, drawOnChartArea: false, drawTicks: false },
        border: { display: false }
      }
    }
  },
  plugins: [framePlugin]
});

// legend (two columns like the original)
const legend = document.getElementById('legend');
function legendItem(col, y, color, text) {
  const mx = col === 0 ? 0 : 53;
  const line = document.createElement('div');
  line.className = 'lg';
  line.style.cssText = 'left:' + mx + 'px;top:' + (y - 1) + 'px;width:9px;background:' + color + ';';
  legend.appendChild(line);
  const t = document.createElement('div');
  t.className = 't';
  t.style.cssText = 'left:' + (mx + 9) + 'px;top:' + (y - 6) + 'px;font-size:10px;line-height:11px;';
  t.textContent = text;
  legend.appendChild(t);
}
for (let k = 0; k < memberNames.length; k++) {
  legendItem(k % 2, 40 + 15 * Math.floor(k / 2), memberColors[k], memberNames[k]);
}
legendItem(1, 265, meanColor, 'Ens. mean');
legendItem(1, 293, climColor, '1981-2010\nmean');
legendItem(0, 305, operColor, 'Oper');
</script>
</body>
</html>
